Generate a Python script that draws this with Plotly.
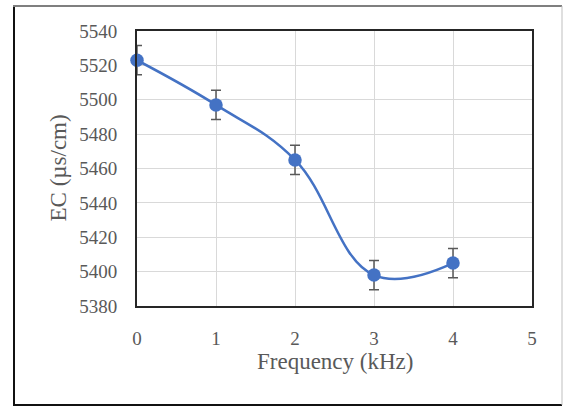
import plotly.graph_objects as go

freq = [0, 1, 2, 3, 4]
ec = [5523, 5497, 5465, 5398, 5405]
err = [8.5, 8.5, 8.5, 8.5, 8.5]
x_ticks = [0, 1, 2, 3, 4, 5]
y_ticks = [5380, 5400, 5420, 5440, 5460, 5480, 5500, 5520, 5540]

W, H = 563, 407
L, R, T, B = 137, 532, 31, 306

def px_x(p):
    return (p - L) / (R - L)

def px_y(p):
    return (B - p) / (B - T)

fig = go.Figure()
fig.add_trace(go.Scatter(
    x=freq, y=ec,
    mode="lines+markers",
    line=dict(color="#4472C4", width=2.5, shape="spline", smoothing=1.15),
    marker=dict(color="#4472C4", size=13.5),
    error_y=dict(type="data", array=err, visible=True, color="#595959", thickness=1.5, width=5),
    cliponaxis=False,
    showlegend=False,
))

font_family = "Liberation Serif, Times New Roman, serif"
fig.update_layout(
    width=W, height=H,
    margin=dict(l=L, r=W - R, t=T, b=H - B),
    paper_bgcolor="white", plot_bgcolor="white",
    font=dict(family=font_family, color="#595959", size=19),
    xaxis=dict(range=[0, 5], tickvals=x_ticks, showgrid=True, gridcolor="#D9D9D9", gridwidth=1,
               showline=True, linecolor="#262626", linewidth=2, mirror=True, zeroline=False,
               ticks="", ticklabelstandoff=14, tickfont=dict(size=19)),
    yaxis=dict(range=[5380, 5540], tickvals=y_ticks, showgrid=True, gridcolor="#D9D9D9", gridwidth=1,
               showline=True, linecolor="#262626", linewidth=2, mirror=True, zeroline=False,
               ticks="", ticklabelstandoff=14, tickfont=dict(size=19)),
    annotations=[
        dict(text="Frequency (kHz)", xref="paper", yref="paper", x=0.5, y=px_y(361),
             xanchor="center", yanchor="middle", showarrow=False, font=dict(size=23)),
        dict(text="EC (µs/cm)", xref="paper", yref="paper", x=px_x(58), y=0.5, textangle=-90,
             xanchor="center", yanchor="middle", showarrow=False, font=dict(size=23)),
    ],
    shapes=[
        dict(type="line", xref="paper", yref="paper", x0=px_x(14), x1=px_x(14), y0=px_y(405), y1=px_y(6),
             line=dict(color="#111111", width=2)),
        dict(type="line", xref="paper", yref="paper", x0=px_x(13), x1=px_x(562), y0=px_y(405), y1=px_y(405),
             line=dict(color="#111111", width=2)),
        dict(type="line", xref="paper", yref="paper", x0=px_x(13), x1=px_x(562), y0=px_y(6), y1=px_y(6),
             line=dict(color="#7F7F7F", width=2)),
        dict(type="line", xref="paper", yref="paper", x0=px_x(562), x1=px_x(562), y0=px_y(405), y1=px_y(6),
             line=dict(color="#BFBFBF", width=1)),
    ],
)

fig.write_html("out.html", config={"displayModeBar": False},
               post_script="document.body.style.margin='0';document.body.style.overflow='hidden';")
